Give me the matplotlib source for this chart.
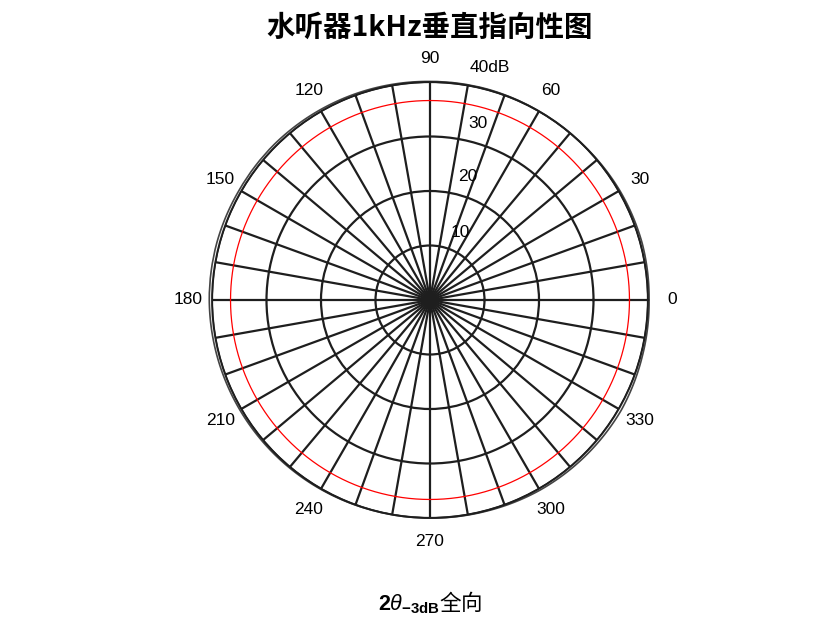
import numpy as np
import matplotlib.pyplot as plt

plt.rcParams['font.family'] = ['Noto Sans CJK SC', 'DejaVu Sans']
plt.rcParams['mathtext.fontset'] = 'custom'
plt.rcParams['mathtext.rm'] = 'Liberation Sans'
plt.rcParams['mathtext.bf'] = 'Liberation Sans:bold'
plt.rcParams['mathtext.it'] = 'Liberation Sans:italic'

# 测量数据 (dB)
ang_deg = [0, 15, 30, 45, 60, 75, 90, 105, 120, 135, 150, 165,
           180, 195, 210, 225, 240, 255, 270, 285, 300, 315, 330, 345, 360]
level_db = [40.2, 40.3, 40.2, 40.0, 40.0, 40.1, 40.1, 40.2, 40.3, 40.4, 40.4, 40.5,
            40.5, 40.4, 40.3, 40.2, 40.1, 40.0, 40.0, 40.1, 40.3, 40.4, 40.5, 40.3, 40.2]
level_3db = 36.6

spoke_deg = list(range(0, 360, 10))
label_deg = list(range(0, 360, 30))
ring_db = [10, 20, 30, 40]
ring_lbl = ['10', '20', '30', '40dB']
ring_lbl_pos = [(66, 13.6), (73, 23.7), (74.8, 33.6), (75.5, 44.0)]

fig = plt.figure(figsize=(8.32, 6.24), dpi=100)
ax = fig.add_axes([(430 - 218) / 832, (624 - 518) / 624, 436 / 832, 436 / 624],
                  projection='polar')

ax.set_ylim(0, 40)
ax.set_thetagrids(spoke_deg, [''] * len(spoke_deg))
ax.set_rgrids(ring_db, [''] * len(ring_db))
ax.grid(True, color='#1e1e1e', linewidth=1.6)
ax.spines['polar'].set_color('#1e1e1e')
ax.spines['polar'].set_linewidth(1.3)

th = np.deg2rad(ang_deg)
ln, = ax.plot(th, level_db, color='#444444', linewidth=1.2, clip_on=False)
ln.get_path()._interpolation_steps = 40
ax.plot(np.deg2rad(np.arange(0, 361)), [level_3db] * 361, color='red', linewidth=0.9)

for a in label_deg:
    ax.text(np.deg2rad(a), 44.4, str(a), ha='center', va='center', fontsize=12.5,
            family='Liberation Sans')
for (a, r), s in zip(ring_lbl_pos, ring_lbl):
    ax.text(np.deg2rad(a), r, s, ha='center', va='center', fontsize=12.5,
            family='Liberation Sans')

fig.text(430 / 832, 1 - 28 / 624, '水听器1kHz垂直指向性图', ha='center', va='center',
         fontsize=20.5, fontweight='bold')
fig.text(430 / 832, 1 - 603 / 624, r'$\mathbf{2}\mathit{\theta}_{\mathbf{-3dB}}$全向',
         ha='center', va='center', fontsize=15.5)

fig.savefig('out.png', dpi=100)
